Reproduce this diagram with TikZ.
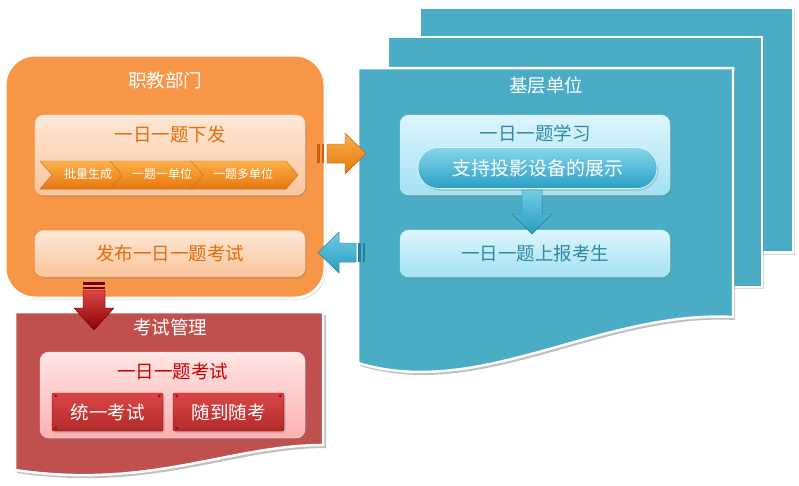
\documentclass[tikz,border=0pt]{standalone}
\usepackage{fontspec}
\newfontfamily\cjk{Noto Sans CJK SC}
\usetikzlibrary{shadows}
\definecolor{orgmain}{HTML}{F79646}
\definecolor{orgtext}{HTML}{E46C0A}
\definecolor{orgdark}{HTML}{C8600F}
\definecolor{chevtop}{HTML}{FBB04A}
\definecolor{chevbot}{HTML}{E8760E}
\definecolor{peachtop}{HTML}{FEE8D8}
\definecolor{peachbot}{HTML}{FBC59A}
\definecolor{tealmain}{HTML}{4BACC6}
\definecolor{tealtext}{HTML}{2E8AA6}
\definecolor{cyantop}{HTML}{DDF5FC}
\definecolor{cyanbot}{HTML}{A3E2F2}
\definecolor{pilltop}{HTML}{86D6EC}
\definecolor{pillbot}{HTML}{2A9FC4}
\definecolor{tarrtop}{HTML}{6FCBE6}
\definecolor{tarrbot}{HTML}{2A9CC0}
\definecolor{tarrdark}{HTML}{22819F}
\definecolor{redmain}{HTML}{C0504D}
\definecolor{redtext}{HTML}{CC0000}
\definecolor{pinktop}{HTML}{FFE6E6}
\definecolor{pinkbot}{HTML}{FFB0B0}
\definecolor{scrtop}{HTML}{DC4646}
\definecolor{scrbot}{HTML}{B22A2A}
\begin{document}
\begin{tikzpicture}[x=1pt,y=-1pt,
  font=\cjk\fontsize{18.5}{21}\selectfont,
  mshadow/.style={drop shadow={opacity=0.3,shadow xshift=1.5pt,shadow yshift=-2pt}},
  ibox/.style={rounded corners=9pt, inner sep=0pt, minimum width=270, mshadow},
  peach/.style={ibox, top color=peachtop, bottom color=peachbot, draw=peachtop},
  cyan/.style={ibox, top color=cyantop, bottom color=cyanbot, draw=cyantop},
  pinkb/.style={ibox, top color=pinktop, bottom color=pinkbot, draw=pinktop, minimum width=265},
  chev/.style={top color=chevtop, bottom color=chevbot, draw=orgdark!80, line width=0.4pt},
  chevtxt/.style={text=white, font=\cjk\fontsize{12}{14}\selectfont},
  scroll/.style={top color=scrtop, bottom color=scrbot, draw=red!50!black, line width=0.4pt, rounded corners=2pt, minimum width=111, minimum height=38, text=white, mshadow},
  tarr/.style={top color=tarrtop, bottom color=tarrbot, draw=tarrdark, line width=0.3pt},
  ttl/.style={text=white}
]
\useasboundingbox (0,0) rectangle (799,485);

% ---------- teal pages ----------
\node[fill=tealmain, draw=white, line width=2.5pt, minimum width=373, minimum height=245, inner sep=0pt, mshadow] (p3) at (606.5,130) {};
\node[fill=tealmain, draw=white, line width=2.5pt, minimum width=374, minimum height=250, inner sep=0pt, mshadow] (p2) at (575,162) {};
\fill[black, opacity=0.25] (360,71) -- (735,71) -- (735,320) .. controls (602,313) and (482,403) .. (360,366) -- cycle;
\filldraw[fill=tealmain, draw=white, line width=2.5pt] (358,68) -- (733,68) -- (733,317) .. controls (600,310) and (480,400) .. (358,363) -- cycle;
\node[ttl] (jc) at (546,85) {基层单位};

\node[cyan, minimum height=80] (xx) at (535,155) {};
\node[text=tealtext] (xxt) at (535,133) {一日一题学习};
\node[rounded corners=20pt, minimum width=239, minimum height=41, inner sep=0pt,
      top color=pilltop, bottom color=pillbot, draw=cyantop, line width=0.8pt,
      text=white, mshadow, font=\cjk\fontsize{19}{21}\selectfont] (pill) at (537.5,168) {支持投影设备的展示};
\node[cyan, minimum height=47] (sb) at (535,253.5) {};
\node[text=tealtext] (sbt) at (535,253) {一日一题上报考生};

% down arrow (teal)
\fill[tarr]
  (522,190) -- (542,190) -- (542,214) -- (552,214) -- (532,234) -- (512,214) -- (522,214) -- cycle;

% ---------- orange block ----------
\node[fill=orgmain, draw=white, line width=3pt, rounded corners=30pt, minimum width=320, minimum height=243, inner sep=0pt, mshadow] (zj) at (165,176.5) {};
\node[ttl] (zjt) at (165,80) {职教部门};
\node[peach, minimum height=80] (xf) at (170,155) {};
\node[text=orgtext] (xft) at (170,134) {一日一题下发};
% chevrons
\fill[chev] (190,161) -- (286,161) -- (298,175) -- (286,189) -- (190,189) -- (202,175) -- cycle;
\fill[chev] (110,161) -- (191,161) -- (203,175) -- (191,189) -- (110,189) -- (122,175) -- cycle;
\fill[chev] (40,161) -- (110,161) -- (122,175) -- (110,189) -- (40,189) -- (52,175) -- cycle;
\node[chevtxt] (c1) at (88,174) {批量生成};
\node[chevtxt] (c2) at (162,174) {一题一单位};
\node[chevtxt] (c3) at (243,174) {一题多单位};

\node[peach, minimum height=46] (fb) at (170,253.5) {};
\node[text=orgtext] (fbt) at (170,253) {发布一日一题考试};

% orange right arrow
\fill[top color=chevtop, bottom color=chevbot, draw=orgdark, line width=0.3pt]
  (327,144) -- (345,144) -- (345,133) -- (366,153.5) -- (345,174) -- (345,163) -- (327,163) -- cycle;
\fill[orgdark] (317,144) rectangle (319.5,163);
\fill[orgdark] (321.5,144) rectangle (324,163);

% teal left arrow
\fill[tarr]
  (356,243) -- (339,243) -- (339,232) -- (318,252.5) -- (339,273) -- (339,262) -- (356,262) -- cycle;
\fill[tarrdark] (358,243) rectangle (360.5,262);
\fill[tarrdark] (362.5,243) rectangle (365,262);

% ---------- red document ----------
\fill[black, opacity=0.25] (17,315) -- (326,315) -- (326,448) .. controls (233,448) and (153,493) .. (17,473) -- cycle;
\filldraw[fill=redmain, draw=white, line width=2.5pt] (15,312) -- (323,312) -- (323,445) .. controls (230,445) and (150,490) .. (15,470) -- cycle;
\node[ttl] (ks) at (170,327) {考试管理};
\node[pinkb, minimum height=86] (kt) at (172.5,395) {};
\node[text=redtext] (ktt) at (172.5,371) {一日一题考试};
\node[scroll] (s1) at (107.5,412) {统一考试};
\node[scroll] (s2) at (228.5,412) {随到随考};
\foreach \n in {s1,s2}{
  \fill[red!70!black] ([xshift=4pt,yshift=-3pt]\n.north west) circle (1.5pt);
  \fill[red!70!black] ([xshift=-4pt,yshift=-3pt]\n.north east) circle (1.5pt);
  \fill[red!70!black] ([xshift=4pt,yshift=3pt]\n.south west) circle (1.5pt);
}

% red down arrow
\fill[top color=scrtop, bottom color=red!55!black, draw=red!45!black, line width=0.3pt]
  (83,290) -- (105,290) -- (105,308) -- (114,308) -- (94,330) -- (74,308) -- (83,308) -- cycle;
\fill[red!45!black] (83,282) rectangle (105,284.5);
\fill[red!45!black] (83,286.5) rectangle (105,289);
\end{tikzpicture}
\end{document}
